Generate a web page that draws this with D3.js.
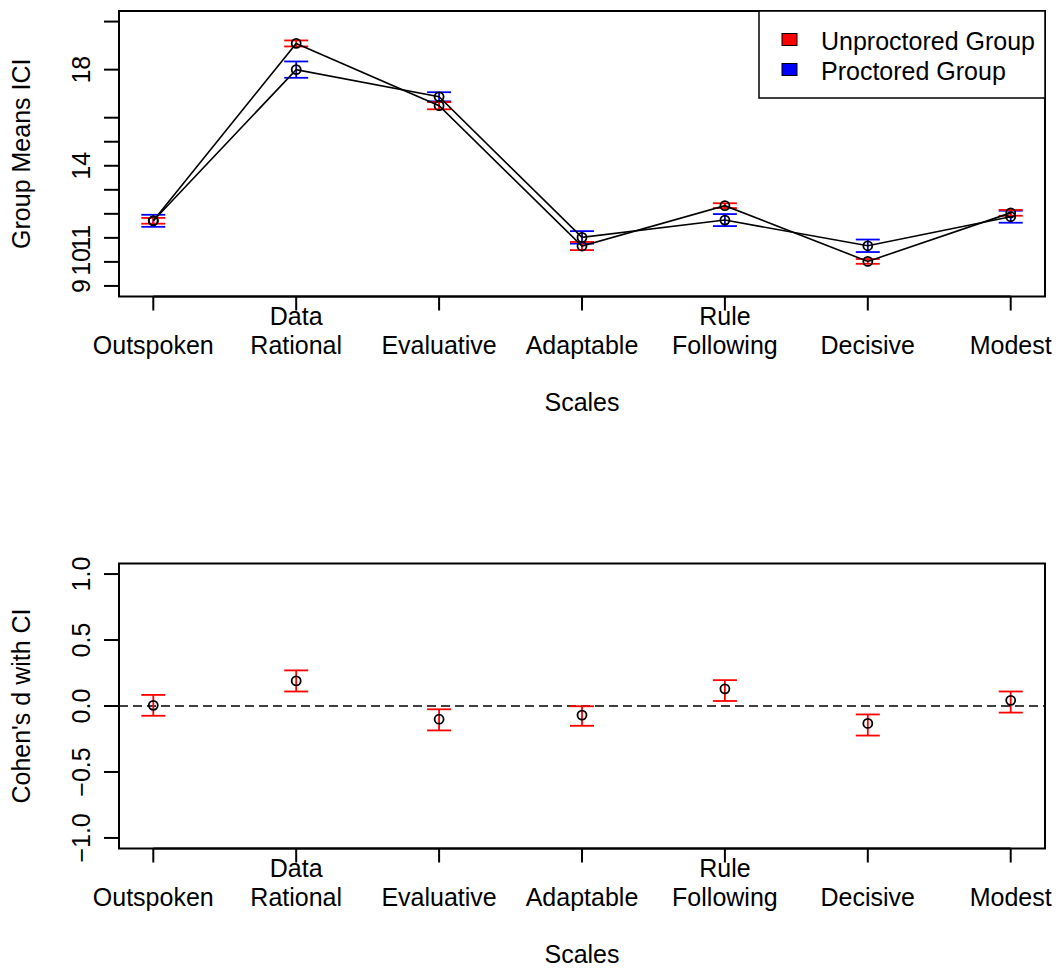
<!DOCTYPE html>
<html>
<head>
<meta charset="utf-8">
<script src="https://cdn.jsdelivr.net/npm/d3@7"></script>
<style>
  body { margin: 0; background: #fff; }
  text { font-family: "Liberation Sans", Arial, sans-serif; font-size: 25px; fill: #000; }
</style>
</head>
<body>
<svg width="1060" height="970"></svg>
<script>
// categories (multi-line tick labels)
var scales = [["Outspoken"], ["Data", "Rational"], ["Evaluative"], ["Adaptable"], ["Rule", "Following"], ["Decisive"], ["Modest"]];

// top panel: group means with CI half-widths
var unprocMean = [11.71, 19.09, 16.50, 10.66, 12.34, 10.02, 12.04];
var unprocCI   = [0.12, 0.125, 0.15, 0.17, 0.10, 0.10, 0.12];
var procMean   = [11.71, 18.00, 16.87, 11.02, 11.74, 10.67, 11.88];
var procCI     = [0.25, 0.34, 0.19, 0.26, 0.25, 0.26, 0.25];
var topTicks   = [9, 10, 11, 12, 13, 14, 15, 16, 18, 20];
var topLabels  = [9, 10, 11, 14, 18];

// bottom panel: Cohen's d with CI
var dVal   = [0.005, 0.19, -0.10, -0.069, 0.13, -0.132, 0.043];
var dLow   = [-0.074, 0.11, -0.185, -0.15, 0.038, -0.224, -0.05];
var dHigh  = [0.084, 0.27, -0.025, -0.002, 0.196, -0.064, 0.11];
var botTicks = [-1.0, -0.5, 0.0, 0.5, 1.0];

var legendNames  = ["Unproctored Group", "Proctored Group"];
var legendColors = ["#ff0000", "#0000ff"];

var svg = d3.select("svg");
var left = 119, right = 1045;
var idx = d3.range(1, scales.length + 1);

// R style: 4% padding on each side
function pad(lo, hi) { var p = (hi - lo) * 0.04; return [lo - p, hi + p]; }

var x = d3.scaleLinear().domain(pad(1, 7)).range([left, right]);

function frame(top, bottom, yScale, ticks, labels, fmt, ytitle) {
  var g = svg.append("g");
  // x ticks + labels
  g.selectAll("line.xt").data(idx).enter().append("line")
    .attr("x1", function(d) { return x(d); }).attr("x2", function(d) { return x(d); })
    .attr("y1", bottom).attr("y2", bottom + 14)
    .attr("stroke", "#000").attr("stroke-width", 2);
  g.append("line").attr("x1", x(1)).attr("x2", x(7)).attr("y1", bottom).attr("y2", bottom)
    .attr("stroke", "#000").attr("stroke-width", 2);
  scales.forEach(function(lines, i) {
    lines.forEach(function(s, j) {
      g.append("text")
        .attr("x", x(i + 1))
        .attr("y", bottom + 57 - (lines.length - 1 - j) * 29)
        .attr("text-anchor", "middle")
        .text(s);
    });
  });
  g.append("text").attr("x", (left + right) / 2).attr("y", bottom + 114.5)
    .attr("text-anchor", "middle").text("Scales");

  // y ticks + labels
  g.selectAll("line.yt").data(ticks).enter().append("line")
    .attr("x1", left - 15).attr("x2", left)
    .attr("y1", function(d) { return yScale(d); }).attr("y2", function(d) { return yScale(d); })
    .attr("stroke", "#000").attr("stroke-width", 2);
  g.selectAll("text.yl").data(labels).enter().append("text")
    .attr("transform", function(d) { return "translate(90," + yScale(d) + ") rotate(-90)"; })
    .attr("text-anchor", "middle")
    .text(fmt);
  g.append("text")
    .attr("transform", "translate(30," + (top + bottom) / 2 + ") rotate(-90)")
    .attr("text-anchor", "middle").text(ytitle);

  // box
  g.append("rect").attr("x", left).attr("y", top)
    .attr("width", right - left).attr("height", bottom - top)
    .attr("fill", "none").attr("stroke", "#000").attr("stroke-width", 2);
}

function errbars(means, lo, hi, yScale, color) {
  var g = svg.append("g").attr("stroke", color).attr("stroke-width", 1.8).attr("fill", "none");
  means.forEach(function(m, i) {
    var cx = x(i + 1), y1 = yScale(lo[i]), y2 = yScale(hi[i]);
    g.append("line").attr("x1", cx).attr("x2", cx).attr("y1", y1).attr("y2", y2);
    g.append("line").attr("x1", cx - 12).attr("x2", cx + 12).attr("y1", y1).attr("y2", y1);
    g.append("line").attr("x1", cx - 12).attr("x2", cx + 12).attr("y1", y2).attr("y2", y2);
  });
}

function points(vals, yScale) {
  svg.append("g").selectAll("circle").data(vals).enter().append("circle")
    .attr("cx", function(d, i) { return x(i + 1); })
    .attr("cy", function(d) { return yScale(d); })
    .attr("r", 4.5).attr("fill", "none").attr("stroke", "#000").attr("stroke-width", 1.8);
}

// ---------- top panel ----------
var topT = 11, topB = 296.5;
var yTop = d3.scaleLinear().domain(pad(9, 20)).range([topB, topT]);

errbars(procMean, procMean.map(function(m, i) { return m - procCI[i]; }),
        procMean.map(function(m, i) { return m + procCI[i]; }), yTop, "#0000ff");
errbars(unprocMean, unprocMean.map(function(m, i) { return m - unprocCI[i]; }),
        unprocMean.map(function(m, i) { return m + unprocCI[i]; }), yTop, "#ff0000");

var line = function(ys) {
  return d3.line().x(function(d, i) { return x(i + 1); }).y(function(d) { return ys(d); });
};
[unprocMean, procMean].forEach(function(s) {
  svg.append("path").attr("d", line(yTop)(s))
    .attr("fill", "none").attr("stroke", "#000").attr("stroke-width", 1.6);
  points(s, yTop);
});

frame(topT, topB, yTop, topTicks, topLabels, function(d) { return d; }, "Group Means ICI");

// legend
var lg = svg.append("g");
lg.append("rect").attr("x", 759).attr("y", topT).attr("width", right - 759).attr("height", 87)
  .attr("fill", "#fff").attr("stroke", "#000").attr("stroke-width", 1.5);
legendNames.forEach(function(n, i) {
  lg.append("rect").attr("x", 782).attr("y", 33.5 + i * 30).attr("width", 15).attr("height", 12)
    .attr("fill", legendColors[i]).attr("stroke", "#000").attr("stroke-width", 1);
  lg.append("text").attr("x", 821).attr("y", 50 + i * 30).text(n);
});

// ---------- bottom panel ----------
var botT = 563.5, botB = 848.5;
var yBot = d3.scaleLinear().domain(pad(-1, 1)).range([botB, botT]);

svg.append("line").attr("x1", left).attr("x2", right).attr("y1", yBot(0)).attr("y2", yBot(0))
  .attr("stroke", "#000").attr("stroke-width", 1.6).attr("stroke-dasharray", "9,5");
errbars(dVal, dLow, dHigh, yBot, "#ff0000");
points(dVal, yBot);

frame(botT, botB, yBot, botTicks, botTicks, d3.format(".1f"), "Cohen's d with CI");
</script>
</body>
</html>
